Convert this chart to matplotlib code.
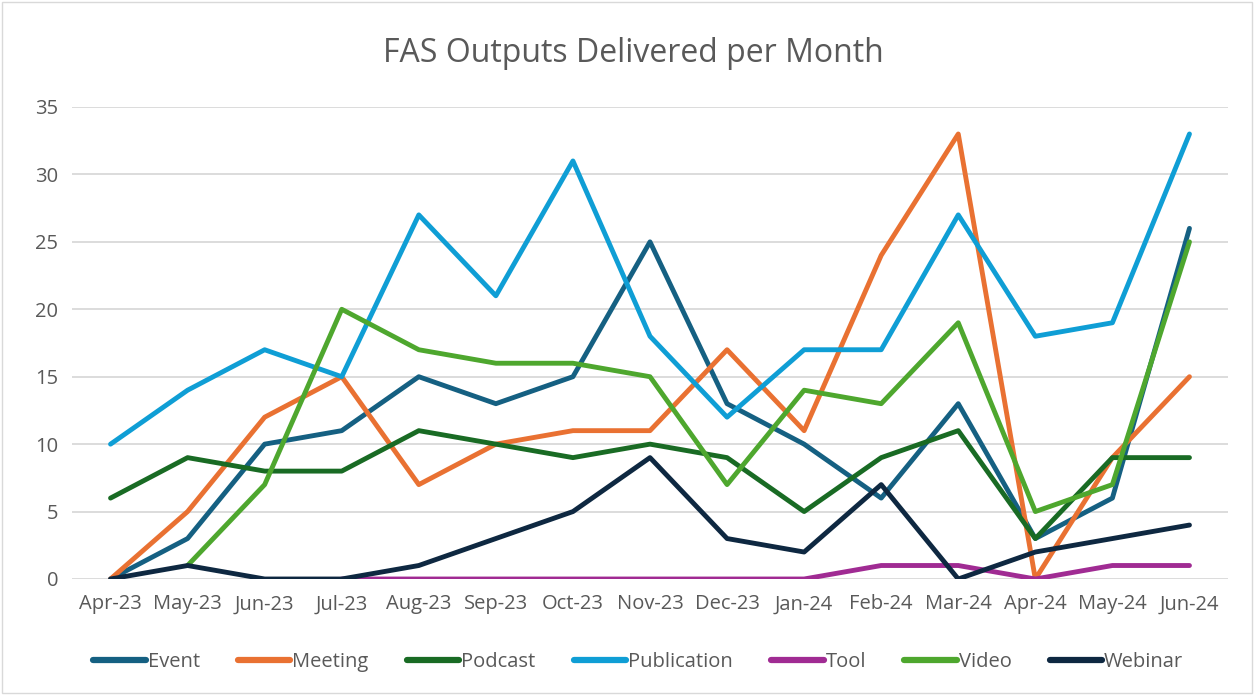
import numpy as np
import matplotlib
matplotlib.use("Agg")
import matplotlib.pyplot as plt
from matplotlib.patches import Rectangle

months = ["Apr-23", "May-23", "Jun-23", "Jul-23", "Aug-23", "Sep-23", "Oct-23", "Nov-23",
          "Dec-23", "Jan-24", "Feb-24", "Mar-24", "Apr-24", "May-24", "Jun-24"]
nan = np.nan
event = [0, 3, 10, 11, 15, 13, 15, 25, 13, 10, 6, 13, 3, 6, 26]
meeting = [0, 5, 12, 15, 7, 10, 11, 11, 17, 11, 24, 33, 0, 9, 15]
podcast = [6, 9, 8, 8, 11, 10, 9, 10, 9, 5, 9, 11, 3, 9, 9]
publication = [10, 14, 17, 15, 27, 21, 31, 18, 12, 17, 17, 27, 18, 19, 33]
tool = [nan, nan, nan, 0, 0, 0, 0, 0, 0, 0, 1, 1, 0, 1, 1]
video = [nan, 1, 7, 20, 17, 16, 16, 15, 7, 14, 13, 19, 5, 7, 25]
webinar = [0, 1, 0, 0, 1, 3, 5, 9, 3, 2, 7, 0, 2, 3, 4]

series = [("Event", event, "#156082"), ("Meeting", meeting, "#E97132"),
          ("Podcast", podcast, "#196B24"), ("Publication", publication, "#0F9ED5"),
          ("Tool", tool, "#A02B93"), ("Video", video, "#4EA72E"),
          ("Webinar", webinar, "#0E2841")]

plt.rcParams['font.family'] = ['Open Sans', 'DejaVu Sans']
fig = plt.figure(figsize=(12.54, 6.95), dpi=100)
ax = fig.add_axes([72/1254, (695-579)/695, (1228-72)/1254, (579-107)/695])

x = np.arange(len(months))
for name, vals, col in series:
    ax.plot(x, vals, color=col, lw=3.5, label=name, solid_capstyle='round',
            solid_joinstyle='round')

ax.set_xlim(-0.5, len(months) - 0.5)
ax.set_ylim(0, 35)
ax.set_yticks(range(0, 36, 5))
ax.set_xticks(x)
ax.set_xticklabels(months)
ax.grid(axis='y', color='#d9d9d9', lw=1.3)
ax.set_axisbelow(True)
for s in ax.spines.values():
    s.set_visible(False)
ax.tick_params(axis='both', length=0, labelsize=14.5, labelcolor='#595959')
ax.tick_params(axis='x', pad=11)
ax.tick_params(axis='y', pad=10)

fig.text(0.505, 1 - 53/695, "FAS Outputs Delivered per Month", ha='center', va='center',
         fontsize=23, color='#595959')

leg = fig.legend(loc='center', bbox_to_anchor=(0.509, 1 - 662/695), ncol=7, frameon=False,
                 fontsize=14.5, handlelength=2.6, handletextpad=0.1, columnspacing=1.9,
                 labelcolor='#595959')
for h in leg.get_lines():
    h.set_linewidth(4.5)
    h.set_solid_capstyle('round')

fig.add_artist(Rectangle((2/1254, 2/695), 1250/1254, 691/695, transform=fig.transFigure,
                         fill=False, edgecolor='#d9d9d9', lw=1))
fig.savefig("out.png", dpi=100)
